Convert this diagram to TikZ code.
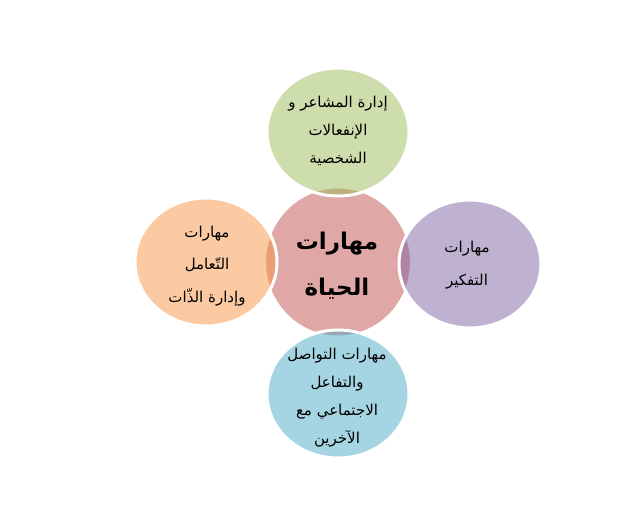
\documentclass[tikz,border=0pt]{standalone}
\usepackage{fontspec}
\usetikzlibrary{shapes.geometric}
\TeXXeTstate=1
\newfontfamily\arabicfont[Script=Arabic]{DejaVu Sans}
\definecolor{cgreen}{HTML}{9BBB59}
\definecolor{cred}{HTML}{C0504D}
\definecolor{corange}{HTML}{F79646}
\definecolor{cpurple}{HTML}{8064A2}
\definecolor{cblue}{HTML}{4BACC6}
\newcommand{\RL}[1]{\beginR #1\endR}
\tikzset{
  blob/.style={ellipse, draw=white, line width=3pt, fill opacity=0.5, inner sep=0pt},
  outerblob/.style={blob, minimum width=142pt, minimum height=128pt},
  lbl/.style={align=center, font=\arabicfont\fontsize{15}{28}\selectfont, text=black, inner sep=0pt},
  widelbl/.style={align=center, font=\arabicfont\fontsize{15}{32.5}\selectfont, text=black, inner sep=0pt},
  mainlbl/.style={align=center, font=\arabicfont\bfseries\fontsize{23}{46}\selectfont, text=black, inner sep=0pt}
}
\begin{document}
\begin{tikzpicture}[x=1pt,y=-1pt]
\useasboundingbox (0,0) rectangle (637,510);
\node[blob, fill=cred, minimum width=147pt, minimum height=150pt] (center) at (338,262) {};
\node[outerblob, fill=cgreen] (top) at (338,132) {};
\node[outerblob, fill=corange] (left) at (206,262) {};
\node[outerblob, fill=cpurple] (right) at (470,264) {};
\node[outerblob, fill=cblue] (bottom) at (338,394) {};
\node[mainlbl] (tcenter) at (337,266) {\RL{مهارات}\\\RL{الحياة}};
\node[lbl] (ttop) at (338,131) {\RL{إدارة المشاعر و}\\\RL{الإنفعالات}\\\RL{الشخصية}};
\node[widelbl] (tleft) at (207,266) {\RL{مهارات}\\\RL{التّعامل}\\\RL{وإدارة الذّات}};
\node[widelbl] (tright) at (467,265) {\RL{مهارات}\\\RL{التفكير}};
\node[lbl] (tbottom) at (337,398) {\RL{مهارات التواصل}\\\RL{والتفاعل}\\\RL{الاجتماعي مع}\\\RL{الآخرين}};
\end{tikzpicture}
\end{document}
